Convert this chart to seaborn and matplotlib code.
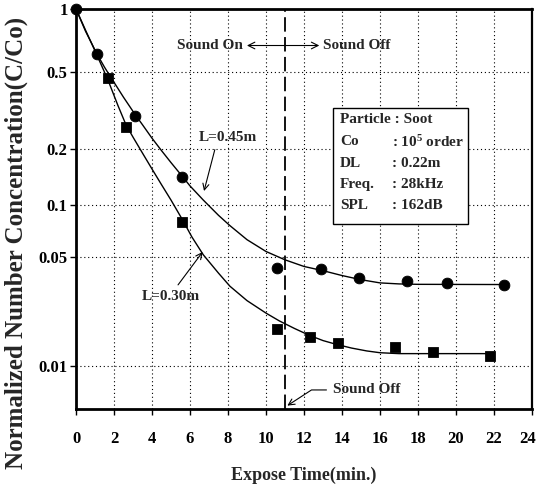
import matplotlib
matplotlib.use("Agg")
import matplotlib.pyplot as plt
from matplotlib.patches import Rectangle
from matplotlib.transforms import ScaledTranslation
import numpy as np
import seaborn as sns

# Measured points (C/Co vs exposure time, min)
t_045 = [0, 1.1, 3.1, 5.6, 10.6, 12.9, 14.9, 17.4, 19.5, 22.5]
c_045 = [1.0, 0.61, 0.30, 0.142, 0.043, 0.042, 0.037, 0.0357, 0.0345, 0.0337]

t_030 = [1.67, 2.63, 5.6, 10.6, 12.3, 13.8, 16.8, 18.8, 21.8]
c_030 = [0.465, 0.263, 0.080, 0.0176, 0.0157, 0.0143, 0.0133, 0.0123, 0.0116]

# Fitted curves
fit_t_045 = [0, 0.5, 1.1, 1.5, 2, 2.5, 3.1, 3.5, 4, 4.5, 5, 5.6, 6, 6.7, 7.5, 8.1,
             9, 10, 11, 12, 13, 14, 15, 16, 17, 18, 22.5]
fit_c_045 = [1.0, 0.785, 0.61, 0.525, 0.442, 0.372, 0.305, 0.269, 0.229, 0.197,
             0.170, 0.143, 0.127, 0.106, 0.087, 0.076, 0.063, 0.0537, 0.0479,
             0.0437, 0.0412, 0.0385, 0.0363, 0.0347, 0.0342, 0.0340, 0.0339]

fit_t_030 = [0, 0.5, 1, 1.67, 2.2, 2.63, 3, 3.5, 4, 4.5, 5, 5.6, 6.1, 6.7, 7.5, 8.1,
             9, 10, 10.7, 11.5, 12.3, 13, 13.7, 14.5, 15.3, 16, 17, 21.8]
fit_c_030 = [1.0, 0.794, 0.631, 0.457, 0.339, 0.269, 0.232, 0.191, 0.157, 0.129,
             0.106, 0.0822, 0.0653, 0.0513, 0.0398, 0.0331, 0.0269, 0.0224,
             0.01995, 0.0178, 0.0160, 0.0148, 0.01396, 0.01318, 0.0126, 0.01225,
             0.01208, 0.01208]

x_ticks = list(range(0, 25, 2))
y_ticks = [0.01, 0.05, 0.1, 0.2, 0.5, 1]
y_labels = ["0.01", "0.05", "0.1", "0.2", "0.5", "1"]

info_keys = ["Co", "DL", "Freq.", "SPL"]
info_vals = [": 10$^5$ order", ": 0.22m", ": 28kHz", ": 162dB"]

# The scanned log axis is slightly compressed toward the bottom
A, B = 213.0, 17.37


def fwd(y):
    u = -np.log10(np.clip(y, 1e-6, None))
    return -(A * u - B * u ** 2)


def inv(v):
    disc = np.clip(A * A + 4 * B * v, 0, None)
    u = (A - np.sqrt(disc)) / (2 * B)
    return 10 ** (-u)


sns.set_theme(style="ticks")
plt.rcParams["font.family"] = ["Liberation Serif", "DejaVu Serif"]
plt.rcParams["font.weight"] = "bold"
plt.rcParams["mathtext.default"] = "regular"

fig = plt.figure(figsize=(5.38, 4.91), dpi=100)
ax = fig.add_axes([0.1413, 0.167, 0.8476, 0.8147])

sns.lineplot(x=fit_t_045, y=fit_c_045, ax=ax, color="black", lw=1.0,
             sort=False, estimator=None)
sns.lineplot(x=fit_t_030, y=fit_c_030, ax=ax, color="black", lw=1.0,
             sort=False, estimator=None)
sns.scatterplot(x=t_045, y=c_045, ax=ax, marker="o", s=60, color="black",
                edgecolor="black", zorder=5, clip_on=False)
sns.scatterplot(x=t_030, y=c_030, ax=ax, marker="s", s=52, color="black",
                edgecolor="black", zorder=5, clip_on=False)

ax.set_yscale("function", functions=(fwd, inv))
ax.set_xlim(0, 24)
ax.set_ylim(10 ** -2.315, 1)
ax.set_xticks(x_ticks)
ax.set_yticks(y_ticks, labels=y_labels)
ax.minorticks_off()

ax.grid(True, ls=(0, (1, 2.5)), color="black", lw=0.8)
for side in ["left", "bottom", "top"]:
    ax.spines[side].set_linewidth(2.0)
ax.spines["right"].set_linewidth(1.6)
for side in ax.spines:
    ax.spines[side].set_color("black")
ax.tick_params(axis="x", direction="out", length=4, width=1, pad=12,
               labelsize=12, colors="black")
ax.tick_params(axis="y", direction="out", length=4, width=1, pad=2,
               labelsize=12, colors="black")

ax.set_xlabel("Expose Time(min.)", fontsize=13, fontweight="bold", labelpad=14)
ax.set_ylabel("Normalized Number Concentration(C/Co)", fontsize=18,
              fontweight="bold")
ax.yaxis.set_label_coords(-0.105, 0.415)

# Sound on / off marker
ax.axvline(11, color="black", lw=1.3, ls=(0, (8, 3)))
ax.text(8.8, 0.67, "Sound On", ha="right", va="center", fontsize=11)
ax.text(13.0, 0.67, "Sound Off", ha="left", va="center", fontsize=11)
ax.annotate("", xy=(8.85, 0.67), xytext=(12.95, 0.67),
            arrowprops=dict(arrowstyle="<->", lw=0.8, color="black"))
ax.annotate("Sound Off", xy=(11, 0.0050), xytext=(13.5, 0.0067),
            ha="left", va="center", fontsize=11,
            arrowprops=dict(arrowstyle="->", lw=0.8, color="black",
                            relpos=(0, 0.5),
                            connectionstyle="angle,angleA=0,angleB=33,rad=0"))

# Curve labels
ax.annotate("L=0.45m", xy=(6.7, 0.115), xytext=(8.0, 0.232),
            ha="center", va="center", fontsize=11,
            arrowprops=dict(arrowstyle="->", lw=0.8, color="black",
                            relpos=(0.3, 0)))
ax.annotate("L=0.30m", xy=(6.75, 0.055), xytext=(5.0, 0.0284),
            ha="center", va="center", fontsize=11,
            arrowprops=dict(arrowstyle="->", lw=0.8, color="black",
                            relpos=(0.55, 1)))

# Condition box
ax.add_patch(Rectangle((0.5636, 0.4625), 0.296, 0.29, transform=ax.transAxes,
                       facecolor="white", edgecolor="black", lw=1.0, zorder=6))
ax.text(0.579, 0.7225, "Particle : Soot", transform=ax.transAxes,
        ha="left", va="center", fontsize=11, zorder=7)
rows_y = [0.6675, 0.6125, 0.56, 0.5075]
for key, val, yy in zip(info_keys, info_vals, rows_y):
    ax.text(0.579, yy, key, transform=ax.transAxes, ha="left", va="center",
            fontsize=11, zorder=7)
    ax.text(0.692, yy, val, transform=ax.transAxes, ha="left", va="center",
            fontsize=11, zorder=7)

# keep the last x tick label inside the canvas
last = ax.get_xticklabels()[-1]
last.set_transform(last.get_transform()
                   + ScaledTranslation(-3 / 72, 0, fig.dpi_scale_trans))

fig.savefig("out.png", dpi=100)
